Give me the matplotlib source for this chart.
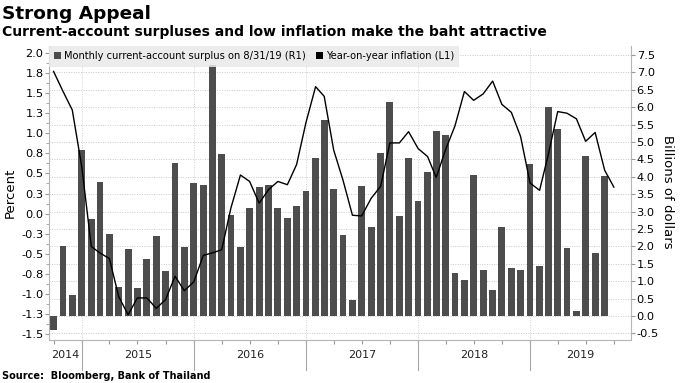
import numpy as np
import pandas as pd
import matplotlib
matplotlib.use('Agg')
import matplotlib.pyplot as plt
import matplotlib.dates as mdates
import matplotlib.transforms as mtransforms
from matplotlib.patches import Patch
from matplotlib.ticker import FixedLocator, FuncFormatter

plt.rcParams['font.family'] = ['DejaVu Sans']

# monthly data, Sep 2014 .. Sep 2019 (surplus stops at Aug 2019)
months = pd.period_range('2014-09', '2019-09', freq='M')

# current-account surplus, billions of dollars (right axis)
surplus = [-0.41, 2.00, 0.62, 4.76,
           2.78, 3.85, 2.37, 0.84, 1.94, 0.81, 1.65, 2.29, 1.30, 4.40, 1.99, 3.83,
           3.77, 7.22, 4.66, 2.91, 1.99, 3.11, 3.70, 3.78, 3.11, 2.81, 3.15, 3.58,
           4.55, 5.62, 3.66, 2.34, 0.46, 3.74, 2.55, 4.68, 6.15, 2.87, 4.53, 3.30,
           4.13, 5.33, 5.21, 1.25, 1.03, 4.05, 1.31, 0.74, 2.56, 1.39, 1.31, 4.37,
           1.43, 6.00, 5.38, 1.97, 0.16, 4.61, 1.80, 4.01]

# year-on-year inflation, percent (left axis)
inflation = [1.77, 1.52, 1.29, 0.58,
             -0.41, -0.49, -0.56, -1.03, -1.26, -1.05, -1.05, -1.18, -1.07, -0.78, -0.96, -0.85,
             -0.52, -0.49, -0.45, 0.07, 0.48, 0.40, 0.13, 0.30, 0.40, 0.36, 0.61, 1.14,
             1.58, 1.46, 0.79, 0.42, -0.02, -0.03, 0.19, 0.34, 0.88, 0.88, 1.02, 0.81,
             0.71, 0.45, 0.80, 1.09, 1.52, 1.41, 1.49, 1.65, 1.36, 1.26, 0.96, 0.38,
             0.29, 0.73, 1.27, 1.25, 1.18, 0.90, 1.01, 0.54, 0.33]

years = [2014, 2015, 2016, 2017, 2018, 2019]

pct_ticks = np.arange(-1.5, 2.01, 0.25)
usd_ticks = np.arange(-0.5, 7.51, 0.5)

bar_color = '#4d4d4d'
axis_gray = '#9a9a9a'

month_end = months.to_timestamp(how='end').normalize()
xd = mdates.date2num(month_end.to_pydatetime())
xlim = (mdates.date2num(pd.Timestamp('2014-09-15')), mdates.date2num(pd.Timestamp('2019-11-25')))

fig = plt.figure(figsize=(6.8, 3.83), dpi=100)
ax = fig.add_axes([0.072, 0.112, 0.856, 0.768])
axl = ax.twinx()
ax.yaxis.tick_right()
axl.yaxis.tick_left()

# bars on the right axis
ax.bar(xd[:len(surplus)], surplus, width=22, color=bar_color, zorder=2)
ax.set_ylim(-0.69, 7.76)
ax.yaxis.set_major_locator(FixedLocator(usd_ticks))
ax.yaxis.set_major_formatter(FuncFormatter(lambda v, p: f"{v:.1f}"))
ax.set_axisbelow(True)
ax.grid(axis='y', linestyle=(0, (1, 1.5)), color='#c9c9c9', lw=0.7)

# line on the left axis
axl.plot(xd, inflation, color='black', lw=1.0, zorder=3)
axl.set_ylim(-1.575, 2.087)
axl.yaxis.set_major_locator(FixedLocator(pct_ticks))
axl.yaxis.set_minor_locator(FixedLocator(pct_ticks[:-1] + 0.125))
axl.yaxis.set_major_formatter(
    FuncFormatter(lambda v, p: f"{np.sign(v) * np.floor(abs(v) * 10 + 0.5) / 10:.1f}"))

ax.set_xlim(*xlim)

for a in (ax, axl):
    for s in a.spines.values():
        s.set_visible(False)
    a.tick_params(axis='y', which='major', length=3, width=0.8, color=axis_gray,
                  labelsize=8.2, pad=1)
    a.tick_params(axis='y', which='minor', length=2, width=0.6, color=axis_gray)
axl.spines['left'].set_visible(True)
axl.spines['left'].set_color('#b5b5b5')
ax.spines['right'].set_visible(True)
ax.spines['right'].set_color('#b5b5b5')
ax.spines['bottom'].set_visible(True)
ax.spines['bottom'].set_color('#b5b5b5')

# quarter ticks along the bottom
quarters = [x for x, p in zip(xd, months) if p.month in (3, 6, 9, 12)]
ax.set_xticks(quarters)
ax.set_xticklabels([])
ax.tick_params(axis='x', length=3, width=0.8, color=axis_gray)

# year boundaries and labels
trans = mtransforms.blended_transform_factory(ax.transData, ax.transAxes)
bounds = [mdates.date2num(pd.Timestamp(f'{y}-01-01')) for y in years[1:]]
for b in bounds:
    ax.axvline(b, color='#d0d0d0', lw=0.7, linestyle=(0, (1, 1.5)), zorder=0.5)
    ax.plot([b, b], [0, -0.1], color='#a8a8a8', lw=0.8, transform=trans, clip_on=False)
edges = [xlim[0]] + bounds + [xlim[1]]
for i, y in enumerate(years):
    ax.text((edges[i] + edges[i + 1]) / 2, -0.052, str(y), transform=trans,
            ha='center', va='center', fontsize=8, color='#222222')

# legend
handles = [Patch(facecolor=bar_color), Patch(facecolor='black')]
labels = ['Monthly current-account surplus on 8/31/19 (R1)', 'Year-on-year inflation (L1)']
axl.legend(handles, labels, loc='upper left', bbox_to_anchor=(0, 1), borderaxespad=0,
           ncol=2, fontsize=7.1, frameon=True, fancybox=False, facecolor='#e9e9e9',
           edgecolor='none', framealpha=0.85, handlelength=0.7, handleheight=0.7,
           handletextpad=0.3, columnspacing=1.0, borderpad=0.55)

# titles and axis labels
fig.text(0.003, 0.950, 'Strong Appeal', fontsize=13.3, fontweight='bold', va='baseline')
fig.text(0.003, 0.906, 'Current-account surpluses and low inflation make the baht attractive',
         fontsize=10, fontweight='bold', va='baseline')
fig.text(0.003, 0.011, 'Source:  Bloomberg, Bank of Thailand', fontsize=7,
         fontweight='bold', va='baseline')
fig.text(0.015, 0.496, 'Percent', rotation=90, ha='center', va='center', fontsize=9.5)
fig.text(0.982, 0.498, 'Billions of dollars', rotation=270, ha='center', va='center',
         fontsize=9.5)

fig.savefig('out.png', dpi=100)
